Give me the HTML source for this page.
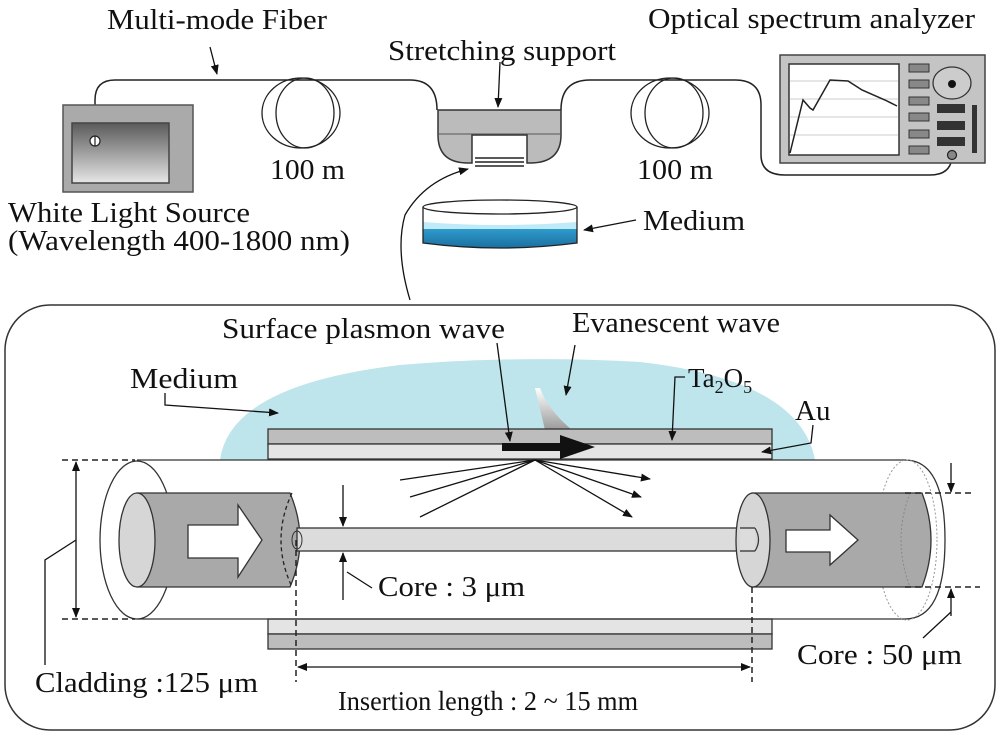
<!DOCTYPE html>
<html><head><meta charset="utf-8"><style>
html,body{margin:0;padding:0;background:#fff}
svg{display:block}
text{font-family:"Liberation Serif",serif;fill:#111}
</style></head><body>
<svg width="1000" height="734" viewBox="0 0 1000 734" xmlns="http://www.w3.org/2000/svg">
<defs>
<linearGradient id="ls" x1="0" y1="0" x2="0" y2="1"><stop offset="0" stop-color="#5a5a5a"/><stop offset="1" stop-color="#e6e6e6"/></linearGradient>
<linearGradient id="water" x1="0" y1="0" x2="0" y2="1"><stop offset="0" stop-color="#cfeefa"/><stop offset="0.25" stop-color="#3bb6e6"/><stop offset="1" stop-color="#1a6fa0"/></linearGradient>
<linearGradient id="ev" x1="0" y1="0" x2="0" y2="1"><stop offset="0" stop-color="#ffffff"/><stop offset="1" stop-color="#9a9a9a"/></linearGradient>
<marker id="ah" markerWidth="10" markerHeight="8" refX="9" refY="4" orient="auto" markerUnits="userSpaceOnUse"><path d="M0,0 L10,4 L0,8 z" fill="#111"/></marker>
</defs>
<g stroke="#222" stroke-width="1.5" fill="none">
<path d="M95,140 L95,100 Q95,80 115,80 L410,80 Q437,80 437,110"/>
<path d="M561,110 Q561,80 590,80 L735,80 Q761,80 761,105 L761,155 Q761,175 785,175 L930,175 Q950,175 952,158"/>
</g>
<rect x="63" y="105" width="130" height="87" fill="#aaa" stroke="#555" stroke-width="1.5"/>
<rect x="72" y="123" width="97" height="60" fill="url(#ls)" stroke="#444" stroke-width="1.5"/>
<circle cx="95" cy="141" r="5" fill="#fff" stroke="#222" stroke-width="1.2"/>
<line x1="95" y1="136" x2="95" y2="146" stroke="#222" stroke-width="1.2"/>
<g fill="none" stroke="#222" stroke-width="1.3">
<ellipse cx="301" cy="113" rx="39" ry="35"/><ellipse cx="305" cy="113" rx="29" ry="35"/>
<ellipse cx="670" cy="113" rx="39" ry="35"/><ellipse cx="674" cy="113" rx="29" ry="35"/>
</g>
<path d="M438,110 L561,110 L561,135 Q561,163 530,163 L527,163 L527,135 L472,135 L472,163 L468,163 Q438,163 438,135 Z" fill="#bbb" stroke="#333" stroke-width="1.5"/>
<line x1="438" y1="134" x2="561" y2="134" stroke="#555" stroke-width="1"/>
<g stroke="#222" stroke-width="1.5"><line x1="475" y1="158" x2="524" y2="158"/><line x1="475" y1="162" x2="524" y2="162"/><line x1="475" y1="166" x2="524" y2="166"/></g>
<rect x="780" y="55" width="205" height="108" fill="#c4c4c4" stroke="#444" stroke-width="1.5"/>
<rect x="789" y="64" width="110" height="91" fill="#fff" stroke="#333" stroke-width="1.5"/>
<g stroke="#ccc" stroke-width="1"><line x1="790" y1="81" x2="898" y2="81"/><line x1="790" y1="99" x2="898" y2="99"/><line x1="790" y1="117" x2="898" y2="117"/><line x1="790" y1="135" x2="898" y2="135"/></g>
<path d="M790,153 L803,100 L810,108 L813,110 L830,80 L848,81 L862,90 L885,100 L897,106" fill="none" stroke="#222" stroke-width="1.5"/>
<g fill="#888" stroke="#333" stroke-width="1"><rect x="909" y="64" width="20" height="8"/><rect x="909" y="80" width="20" height="8"/><rect x="909" y="97" width="20" height="8"/><rect x="909" y="113" width="20" height="8"/><rect x="909" y="130" width="20" height="8"/><rect x="909" y="146" width="20" height="8"/></g>
<ellipse cx="952" cy="83" rx="19" ry="16" fill="#ccc" stroke="#333" stroke-width="1.3"/>
<circle cx="952" cy="84" r="4" fill="#111"/>
<g fill="#333"><rect x="937" y="104" width="28" height="9"/><rect x="937" y="121" width="28" height="9"/><rect x="937" y="137" width="28" height="9"/><rect x="972" y="105" width="5" height="48"/></g>
<circle cx="952" cy="155" r="4.5" fill="#888" stroke="#222" stroke-width="1.2"/>
<path d="M423,207 L423,243 Q500,253 577,243 L577,207 Z" fill="url(#water)"/>
<path d="M423,207 L423,226 L577,226 L577,207 Z" fill="#fff"/>
<path d="M423,222 Q500,228 577,222 L577,229 L423,229Z" fill="#bfeaf8"/>
<ellipse cx="500" cy="207" rx="77" ry="7" fill="#fff" stroke="#222" stroke-width="1.3"/>
<path d="M423,207 L423,243 Q500,253 577,243 L577,207" fill="none" stroke="#222" stroke-width="1.3"/>
<g stroke="#111" stroke-width="1.3" fill="none">
<line x1="210" y1="47" x2="217" y2="74" marker-end="url(#ah)"/>
<line x1="500" y1="62" x2="498" y2="107" marker-end="url(#ah)"/>
<line x1="636" y1="220" x2="584" y2="230" marker-end="url(#ah)"/>
<path d="M410,300 Q395,250 405,215 Q425,180 468,169" marker-end="url(#ah)"/>
</g>
<g font-size="29">
<text x="107" y="29" textLength="220" lengthAdjust="spacingAndGlyphs">Multi-mode Fiber</text>
<text x="388" y="60" textLength="228" lengthAdjust="spacingAndGlyphs">Stretching support</text>
<text x="648" y="28" textLength="327" lengthAdjust="spacingAndGlyphs">Optical spectrum analyzer</text>
<text x="270" y="179" textLength="75" lengthAdjust="spacingAndGlyphs">100 m</text>
<text x="637" y="179" textLength="76" lengthAdjust="spacingAndGlyphs">100 m</text>
<text x="8" y="222" textLength="242" lengthAdjust="spacingAndGlyphs">White Light Source</text>
<text x="8" y="250" textLength="342" lengthAdjust="spacingAndGlyphs">(Wavelength 400-1800 nm)</text>
<text x="643" y="230" textLength="102" lengthAdjust="spacingAndGlyphs">Medium</text>
</g>

<rect x="5" y="305" width="990" height="425" rx="45" ry="45" fill="none" stroke="#333" stroke-width="1.5"/>
<path d="M220,460 Q230,385 400,365 Q520,355 640,362 Q800,380 815,460 Z" fill="#bde5eb"/>
<path d="M535,388 L545,430 L572,430 Q548,410 540,388 Z" fill="url(#ev)"/>
<rect x="268" y="429" width="504" height="15" fill="#bdbdbd" stroke="#333" stroke-width="1.3"/>
<rect x="268" y="444" width="504" height="15" fill="#e4e4e4" stroke="#333" stroke-width="1.3"/>
<rect x="268" y="619" width="504" height="15" fill="#e4e4e4" stroke="#333" stroke-width="1.3"/>
<rect x="268" y="634" width="504" height="15" fill="#bdbdbd" stroke="#333" stroke-width="1.3"/>
<rect x="502" y="443" width="60" height="8" fill="#111"/>
<path d="M560,435 L595,447 L560,459 Z" fill="#111"/>
<g stroke="#333" stroke-width="1.3" fill="none">
<line x1="137" y1="460" x2="905" y2="460"/>
<line x1="137" y1="619" x2="905" y2="619"/>
<path d="M905,460 Q945,460 945,540 Q945,619 905,619"/>
</g>
<ellipse cx="907" cy="540" rx="30" ry="80" fill="none" stroke="#999" stroke-width="1" stroke-dasharray="2,2"/>
<ellipse cx="137" cy="540" rx="37" ry="79" fill="#fff" stroke="#333" stroke-width="1.3"/>
<path d="M137,493 L290,493 Q310,540 290,587 L137,587 Z" fill="#a9a9a9" stroke="#333" stroke-width="1.3"/>
<ellipse cx="137" cy="540" rx="18" ry="47" fill="#d6d6d6" stroke="#333" stroke-width="1.3"/>
<path d="M292,493 Q270,540 292,587" fill="none" stroke="#222" stroke-width="1.3" stroke-dasharray="4,3"/>
<path d="M188,525 L238,525 L238,505 L262,540 L238,577 L238,558 L188,558 Z" fill="#fff" stroke="#333" stroke-width="1.3"/>
<rect x="297" y="528" width="458" height="23" fill="#dcdcdc" stroke="#333" stroke-width="1.3"/>
<ellipse cx="297" cy="540" rx="5" ry="9" fill="none" stroke="#333" stroke-width="1"/>
<path d="M752,493 L922,493 Q940,540 922,587 L752,587 Z" fill="#a9a9a9" stroke="#333" stroke-width="1.3"/>
<path d="M910,493 Q892,540 910,587" fill="none" stroke="#888" stroke-width="1" stroke-dasharray="2,2"/>
<ellipse cx="753" cy="540" rx="17" ry="47" fill="#d6d6d6" stroke="#333" stroke-width="1.3"/>
<rect x="740" y="528" width="15" height="23" fill="#dcdcdc"/>
<line x1="740" y1="528" x2="755" y2="528" stroke="#333" stroke-width="1.3"/>
<line x1="740" y1="551" x2="755" y2="551" stroke="#333" stroke-width="1.3"/>
<path d="M755,528 Q762,540 755,551" fill="none" stroke="#333" stroke-width="1.2"/>
<path d="M786,530 L830,530 L830,515 L858,540 L830,565 L830,552 L786,552 Z" fill="#fff" stroke="#333" stroke-width="1.3"/>
<g stroke="#222" stroke-width="1.5" stroke-dasharray="6,4" fill="none">
<line x1="296" y1="540" x2="296" y2="682"/>
<line x1="752" y1="587" x2="752" y2="682"/>
<line x1="62" y1="460" x2="135" y2="460"/>
<line x1="62" y1="619" x2="135" y2="619"/>
<line x1="905" y1="493" x2="975" y2="493"/>
<line x1="905" y1="587" x2="980" y2="587"/>
</g>
<g stroke="#111" stroke-width="1.3" fill="none">
<line x1="535" y1="460" x2="400" y2="480"/>
<line x1="535" y1="460" x2="410" y2="497"/>
<line x1="535" y1="460" x2="420" y2="517"/>
<line x1="535" y1="460" x2="650" y2="479" marker-end="url(#ah)"/>
<line x1="535" y1="460" x2="641" y2="497" marker-end="url(#ah)"/>
<line x1="535" y1="460" x2="632" y2="517" marker-end="url(#ah)"/>
<line x1="76" y1="540" x2="76" y2="462" marker-end="url(#ah)"/>
<line x1="76" y1="540" x2="76" y2="617" marker-end="url(#ah)"/>
<path d="M76,540 L45,560 L45,665"/>
<line x1="343" y1="485" x2="343" y2="526" marker-end="url(#ah)"/>
<line x1="343" y1="600" x2="343" y2="553" marker-end="url(#ah)"/>
<line x1="347" y1="572" x2="372" y2="588"/>
<line x1="524" y1="667" x2="298" y2="667" marker-end="url(#ah)"/>
<line x1="524" y1="667" x2="750" y2="667" marker-end="url(#ah)"/>
<line x1="951" y1="463" x2="951" y2="492" marker-end="url(#ah)"/>
<line x1="951" y1="616" x2="951" y2="589" marker-end="url(#ah)"/>
<line x1="951" y1="612" x2="923" y2="638"/>
<path d="M165,393 L165,405 L278,413" marker-end="url(#ah)"/>
<line x1="497" y1="343" x2="510" y2="441" marker-end="url(#ah)"/>
<line x1="575" y1="345" x2="566" y2="395" marker-end="url(#ah)"/>
<path d="M685,377 L675,377 L672,440" marker-end="url(#ah)"/>
<path d="M813,425 L811,443 L762,452" marker-end="url(#ah)"/>
</g>
<g font-size="29">
<text x="222" y="338" textLength="283" lengthAdjust="spacingAndGlyphs">Surface plasmon wave</text>
<text x="572" y="332" textLength="208" lengthAdjust="spacingAndGlyphs">Evanescent wave</text>
<text x="130" y="388" textLength="108" lengthAdjust="spacingAndGlyphs">Medium</text>
<text x="688" y="387" font-size="27">Ta<tspan font-size="18" dy="6">2</tspan><tspan dy="-6">O</tspan><tspan font-size="18" dy="6">5</tspan></text>
<text x="795" y="420">Au</text>
<text x="378" y="596" textLength="147" lengthAdjust="spacingAndGlyphs">Core : 3 μm</text>
<text x="797" y="664" textLength="165" lengthAdjust="spacingAndGlyphs">Core : 50 μm</text>
<text x="35" y="692" textLength="223" lengthAdjust="spacingAndGlyphs">Cladding :125 μm</text>
<text x="338" y="710" font-size="27" textLength="300" lengthAdjust="spacingAndGlyphs">Insertion length : 2 ~ 15 mm</text>
</g>
</svg>
</body></html>
